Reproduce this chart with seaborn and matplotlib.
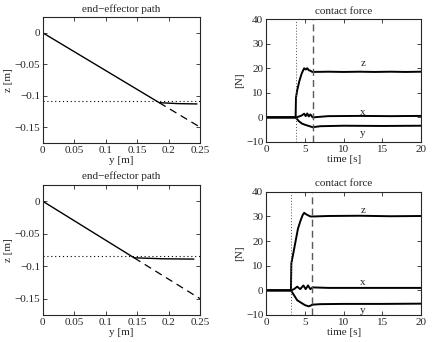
import numpy as np
import pandas as pd
import matplotlib
matplotlib.use("Agg")
import matplotlib.pyplot as plt
import seaborn as sns

# path data (y [m], z [m])
path1_y = [0, 0.185, 0.215, 0.245]
path1_z = [0, -0.111, -0.1125, -0.113]
ref1_y = [0.185, 0.25]
ref1_z = [-0.111, -0.15]
surf1_z = -0.109

path2_y = [0, 0.145, 0.19, 0.24]
path2_z = [0, -0.087, -0.0885, -0.089]
ref2_y = [0.145, 0.25]
ref2_z = [-0.087, -0.15]
surf2_z = -0.084

# contact force, experiment 1
t_z1 = [0, 3.8, 3.85, 4.0, 4.3, 4.6, 4.9, 5.1, 5.3, 5.5, 5.7, 5.9, 6.0, 8, 10, 12, 14, 16, 18, 20]
f_z1 = [0, 0, 8, 11, 15, 18, 20, 19.5, 20, 19.2, 19, 18.6, 18.5, 18.6, 18.5, 18.6, 18.5, 18.6, 18.5, 18.6]
t_x1 = [0, 3.8, 4.2, 4.6, 4.9, 5.1, 5.3, 5.5, 5.7, 6.0, 8, 12, 16, 20]
f_x1 = [0, 0, 0.3, 0.8, 1.5, 0.5, 1.6, 0.4, 1.2, 0, 0.5, 0.6, 0.5, 0.6]
t_y1 = [0, 3.8, 4.2, 4.6, 5.0, 5.5, 6.0, 7, 10, 15, 20]
f_y1 = [0, 0, -1.5, -2.5, -3, -3.5, -4, -3.6, -3.4, -3.5, -3.4]
contact1, settle1 = 3.8, 6.0

# contact force, experiment 2
t_z2 = [0, 3.2, 3.25, 3.5, 3.8, 4.1, 4.4, 4.7, 4.9, 5.1, 5.4, 5.7, 6.0, 8, 12, 16, 20]
f_z2 = [0, 0, 11, 15, 20, 25, 28, 30.5, 31.5, 31, 30.5, 30, 30, 30.2, 30.3, 30.1, 30.2]
t_x2 = [0, 3.2, 3.6, 4.0, 4.4, 4.8, 5.1, 5.4, 5.7, 6.0, 8, 12, 16, 20]
f_x2 = [0, 0, 0.5, 1.5, 0.5, 2, 0.5, 2, 0.5, 1.2, 1, 1, 1, 1]
t_y2 = [0, 3.2, 3.6, 4.0, 4.5, 5.0, 5.5, 6.0, 7, 10, 15, 20]
f_y2 = [0, 0, -2, -4, -5, -6, -6.5, -5.8, -5.6, -5.5, -5.5, -5.4]
contact2, settle2 = 3.2, 5.95

sns.set_style("ticks")
plt.rcParams['font.family'] = ['Liberation Serif', 'DejaVu Serif']
plt.rcParams['font.size'] = 8
plt.rcParams['xtick.direction'] = 'in'
plt.rcParams['ytick.direction'] = 'in'
plt.rcParams['xtick.top'] = True
plt.rcParams['ytick.right'] = True
plt.rcParams['axes.linewidth'] = 0.8

fig = plt.figure(figsize=(4.37, 3.42), dpi=100)
ax_tl = fig.add_axes([0.098, 0.582, 0.360, 0.368])
ax_tr = fig.add_axes([0.609, 0.585, 0.355, 0.359])
ax_bl = fig.add_axes([0.098, 0.079, 0.360, 0.380])
ax_br = fig.add_axes([0.609, 0.079, 0.355, 0.360])


def path_plot(ax, py, pz, ry, rz, sz):
    sns.lineplot(x=py, y=pz, ax=ax, color='black', lw=1.0, sort=False)
    sns.lineplot(x=ry, y=rz, ax=ax, color='black', lw=0.9, linestyle=(0, (6, 4)))
    ax.axhline(sz, color='black', lw=0.8, linestyle=(0, (1, 2.5)))
    ax.set_xlim(0, 0.25)
    ax.set_ylim(-0.175, 0.025)
    ax.set_xticks([0, 0.05, 0.1, 0.15, 0.2, 0.25])
    ax.set_xticklabels(['0', '0.05', '0.1', '0.15', '0.2', '0.25'])
    ax.set_yticks([0, -0.05, -0.1, -0.15])
    ax.set_yticklabels(['0', '\u22120.05', '\u22120.1', '\u22120.15'])
    ax.set_xlabel('y [m]', labelpad=1)
    ax.set_ylabel('z [m]', labelpad=1)
    ax.set_title('end\u2212effector path', fontsize=8, pad=4)


def force_plot(ax, tz, fz, tx, fx, ty, fy, tc, ts, lab):
    for t, f in [(tz, fz), (tx, fx), (ty, fy)]:
        sns.lineplot(x=t, y=f, ax=ax, color='black', lw=1.4)
    ax.axvline(tc, color='0.3', lw=0.7, linestyle=(0, (1, 2)))
    ax.axvline(ts, color='0.35', lw=1.0, linestyle=(0, (5, 3)))
    for name, yy in lab:
        ax.text(12.5, yy, name, ha='center', va='center', fontsize=8)
    ax.set_xlim(0, 20)
    ax.set_ylim(-10, 40)
    ax.set_xticks([0, 5, 10, 15, 20])
    ax.set_yticks([-10, 0, 10, 20, 30, 40])
    ax.set_yticklabels(['\u221210', '0', '10', '20', '30', '40'])
    ax.set_xlabel('time [s]', labelpad=1)
    ax.set_ylabel('[N]', labelpad=1)
    ax.set_title('contact force', fontsize=8, pad=4)


path_plot(ax_tl, path1_y, path1_z, ref1_y, ref1_z, surf1_z)
path_plot(ax_bl, path2_y, path2_z, ref2_y, ref2_z, surf2_z)
force_plot(ax_tr, t_z1, f_z1, t_x1, f_x1, t_y1, f_y1, contact1, settle1,
           [('z', 22), ('x', 2), ('y', -6.5)])
force_plot(ax_br, t_z2, f_z2, t_x2, f_x2, t_y2, f_y2, contact2, settle2,
           [('z', 32.5), ('x', 3), ('y', -8)])

for ax in [ax_tl, ax_tr, ax_bl, ax_br]:
    ax.tick_params(length=3, width=0.6, pad=2, labelsize=8)
    for s in ax.spines.values():
        s.set_visible(True)

fig.savefig('out.png', dpi=100)
